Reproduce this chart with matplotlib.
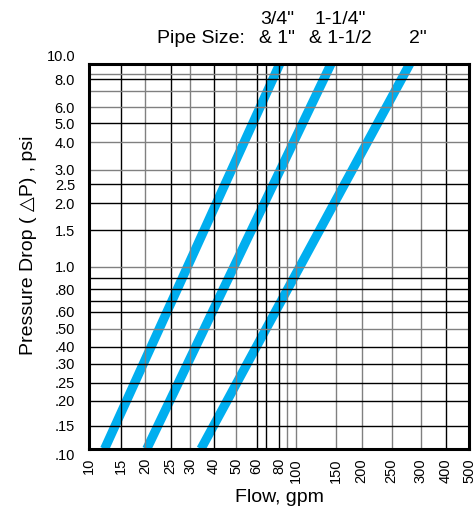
import numpy as np
import matplotlib
matplotlib.use('Agg')
import matplotlib.pyplot as plt

plt.rcParams['font.family'] = ['Liberation Sans', 'DejaVu Sans']

# pipe size captions (two rows above the chart)
size_top = ['3/4"', '1-1/4"', '']
size_bottom = ['& 1"', '& 1-1/2', '2"']

# each band runs from .10 psi to 10.0 psi
flow_start = [12.2, 20.3, 34.2]    # gpm at .10 psi
flow_end = [80.5, 143.0, 280.0]    # gpm at 10.0 psi
dp_start = [0.10, 0.10, 0.10]
dp_end = [10.0, 10.0, 10.0]

flow_ticks = [10, 15, 20, 25, 30, 40, 50, 60, 80, 100, 150, 200, 250, 300, 400, 500]
dp_ticks = [0.10, 0.15, 0.20, 0.25, 0.30, 0.40, 0.50, 0.60, 0.80,
            1.0, 1.5, 2.0, 2.5, 3.0, 4.0, 5.0, 6.0, 8.0, 10.0]
dp_labels = ['.10', '.15', '.20', '.25', '.30', '.40', '.50', '.60', '.80',
             '1.0', '1.5', '2.0', '2.5', '3.0', '4.0', '5.0', '6.0', '8.0', '10.0']

# the printed graph paper is not a clean log grid, so map each grid
# value to where it actually sits (fraction of the axis)
x_grid = [10, 15, 20, 25, 30, 40, 50, 60, 70, 80, 90, 100, 150, 200, 250, 300, 400, 500]
x_frac = [0, .0834, .1473, .2148, .2656, .3287, .3865, .4410, .4646, .5004,
          .5214, .5435, .6487, .7171, .7960, .8722, .9379, 1]
x_dark = [1, 1, 0, 1, 0, 1, 0, 1, 1, 1, 0, 0, 0, 0, 0, 0, 1, 1]

y_grid = [.1, .15, .2, .25, .3, .4, .5, .6, .7, .8, .9, 1, 1.5, 2, 2.5, 3, 4, 5, 6, 7, 8, 9, 10]
y_frac = [0, .0605, .1247, .1722, .2208, .2657, .3117, .3566, .3852, .4148, .4434,
          .4735, .5688, .6382, .6875, .7247, .7966, .8460, .8875, .9306, .9610, .9740, 1]
y_dark = [1, 1, 1, 1, 1, 1, 0, 1, 1, 1, 1, 0, 1, 1, 1, 0, 0, 1, 0, 0, 1, 0, 1]


def warp(vals, fracs):
    lv = np.log10(vals)
    f = np.asarray(fracs, float)
    slope = (f[-1] - f[0]) / (lv[-1] - lv[0])
    lv = np.concatenate([[lv[0] - 12], lv, [lv[-1] + 12]])
    f = np.concatenate([[f[0] - 12 * slope], f, [f[-1] + 12 * slope]])

    def fwd(v):
        v = np.clip(np.asarray(v, float), 1e-12, None)
        return np.interp(np.log10(v), lv, f)

    def inv(p):
        return 10 ** np.interp(np.asarray(p, float), f, lv)
    return fwd, inv


fig = plt.figure(figsize=(4.76, 5.13), dpi=100)
ax = fig.add_axes([89 / 476, 64 / 513, 380.3 / 476, 385 / 513])
ax.set_xscale('function', functions=warp(x_grid, x_frac))
ax.set_yscale('function', functions=warp(y_grid, y_frac))
ax.set_xlim(10, 500)
ax.set_ylim(0.1, 10)

blue = '#00AEEF'
for f0, f1, p0, p1 in zip(flow_start, flow_end, dp_start, dp_end):
    ax.plot([f0, f1], [p0, p1], color=blue, lw=6.6, solid_capstyle='butt', zorder=2)

for v, d in zip(x_grid[1:-1], x_dark[1:-1]):
    ax.axvline(v, color='#000000' if d else '#808080', lw=1.0, zorder=3)
for v, d in zip(y_grid[1:-1], y_dark[1:-1]):
    ax.axhline(v, color='#000000' if d else '#808080', lw=1.0, zorder=3)

for s in ax.spines.values():
    s.set_linewidth(2.2)
    s.set_zorder(5)

ax.set_xticks(flow_ticks, [str(t) for t in flow_ticks], rotation=90, fontsize=10.5)
ax.set_yticks(dp_ticks, dp_labels, fontsize=10.5)
ax.minorticks_off()
ax.tick_params(axis='x', length=0, pad=6.5)
ax.tick_params(axis='y', length=0, pad=10)
ylabs = ax.get_yticklabels()
ylabs[0].set_va('top')
ylabs[-1].set_va('bottom')

ax.set_xlabel('Flow, gpm', fontsize=14)
ax.xaxis.set_label_coords(0.5, -0.104)
ax.set_ylabel('Pressure Drop ( \u25b3P) , psi', fontsize=14)
ax.yaxis.set_label_coords(-0.137, 0.53)

# header captions
fig.text(157 / 476, 1 - 43 / 513, 'Pipe Size:', fontsize=14, ha='left', va='baseline')
for cx, t, b in zip([277, 340, 418], size_top, size_bottom):
    fig.text(cx / 476, 1 - 24 / 513, t, fontsize=14, ha='center', va='baseline')
    fig.text(cx / 476, 1 - 43 / 513, b, fontsize=14, ha='center', va='baseline')

fig.savefig('out.png', dpi=100)
